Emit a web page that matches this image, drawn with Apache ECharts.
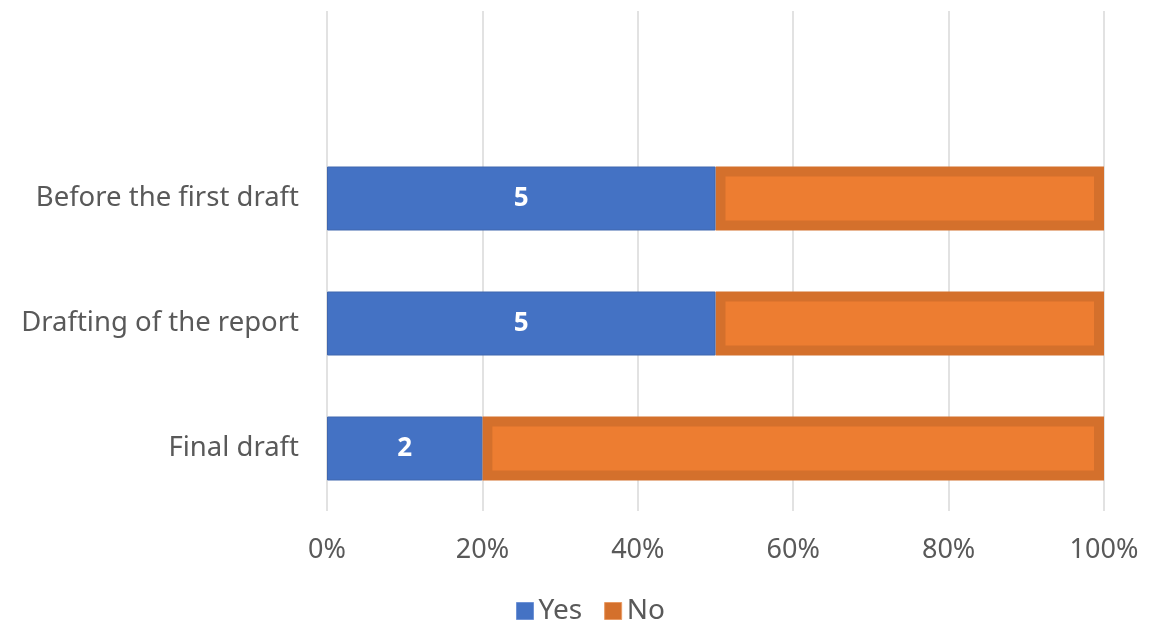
<!DOCTYPE html>
<html>
<head>
<meta charset="utf-8">
<script src="https://cdn.jsdelivr.net/npm/echarts@6/dist/echarts.min.js"></script>
<style>html,body{margin:0;padding:0;background:#fff}#c{width:1155px;height:628px}</style>
</head>
<body>
<div id="c"></div>
<script>
const categories = ["Final draft", "Drafting of the report", "Before the first draft", ""];
const yesValues = [2, 5, 5, null];
const noValues = [8, 5, 5, null];
const xTicks = [0, 20, 40, 60, 80, 100];

const pct = (a, b) => (a == null ? null : a / (a + b) * 100);
const yesPct = yesValues.map((v, i) => pct(v, noValues[i]));
const noData = noValues.map((v, i) => v == null ? null : [yesPct[i], 100, i]);

const chart = echarts.init(document.getElementById('c'));
const font = "'Noto Sans', sans-serif";
chart.setOption({
  animation: false,
  grid: { left: 327, right: 51, top: 11, height: 500, containLabel: false },
  xAxis: {
    type: 'value', min: 0, max: 100, interval: 20,
    axisLine: { show: false }, axisTick: { show: false },
    splitLine: { lineStyle: { color: '#D9D9D9', width: 1.5 } },
    axisLabel: { formatter: v => xTicks.includes(v) ? v + '%' : '', color: '#595959', fontSize: 27, fontFamily: font, margin: 26 }
  },
  yAxis: {
    type: 'category', data: categories,
    axisLine: { show: false }, axisTick: { show: false },
    axisLabel: { color: '#595959', fontSize: 27.5, fontFamily: font, margin: 28 }
  },
  legend: {
    top: 597, left: 516, padding: 0, itemWidth: 17, itemHeight: 17, itemGap: 22,
    textStyle: { color: '#595959', fontSize: 28, fontFamily: font },
    data: [
      { name: 'Yes', icon: 'rect', itemStyle: { color: '#4472C4', borderColor: '#6F93D6', borderWidth: 1 } },
      { name: 'No', icon: 'rect', itemStyle: { color: '#D4702C', borderColor: '#E99A63', borderWidth: 1 } }
    ]
  },
  series: [
    {
      name: 'Yes', type: 'bar', data: yesPct, barWidth: 64,
      itemStyle: { color: '#4472C4', borderColor: '#3F66AE', borderWidth: 1 },
      label: {
        show: true, position: 'inside', color: '#fff', fontWeight: 'bold', fontSize: 26, fontFamily: font,
        formatter: p => yesValues[p.dataIndex]
      }
    },
    {
      name: 'No', type: 'custom', data: noData,
      itemStyle: { color: '#D4702C' },
      encode: { x: [0, 1], y: 2 },
      renderItem: (params, api) => {
        const s = api.coord([api.value(0), api.value(2)]);
        const e = api.coord([api.value(1), api.value(2)]);
        const h = 64, b = 10;
        const x = s[0], y = s[1] - h / 2, w = e[0] - s[0];
        return {
          type: 'group',
          children: [
            { type: 'rect', shape: { x: x, y: y, width: w, height: h }, style: { fill: '#D4702C' } },
            { type: 'rect', shape: { x: x + b, y: y + b, width: w - 2 * b, height: h - 2 * b }, style: { fill: '#ED7D31' } }
          ]
        };
      }
    }
  ]
});
</script>
</body>
</html>
